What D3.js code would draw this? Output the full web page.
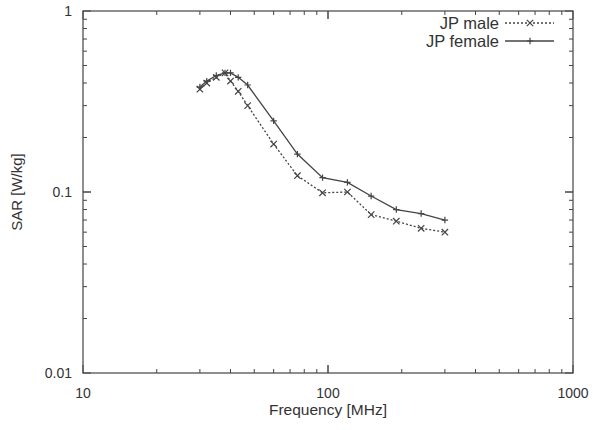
<!DOCTYPE html>
<html>
<head>
<meta charset="utf-8">
<script src="https://cdn.jsdelivr.net/npm/d3@7.9.0/dist/d3.min.js"></script>
<style>
  body { margin: 0; background: #fff; }
  svg { display: block; font-family: "Liberation Sans", Arial, sans-serif; }
  .tick-label { fill: #333; font-size: 14px; }
</style>
</head>
<body>
<div id="chart"></div>
<script>
// data
const freqs = [30, 32, 35, 38, 40, 43, 47, 60, 75, 95, 120, 150, 190, 240, 300];
const sarMale   = [0.37, 0.40, 0.43, 0.455, 0.41, 0.36, 0.30, 0.184, 0.123, 0.099, 0.10, 0.075, 0.069, 0.063, 0.060];
const sarFemale = [0.38, 0.41, 0.44, 0.455, 0.455, 0.43, 0.39, 0.247, 0.162, 0.12, 0.113, 0.095, 0.080, 0.076, 0.070];
const xTicks = [10, 100, 1000];
const yTicks = [0.01, 0.1, 1];
const seriesNames = ['JP male', 'JP female'];

const width = 593, height = 430;
const margin = { top: 11, right: 20, bottom: 57, left: 83 };
const ink = '#444';

const svg = d3.select('#chart').append('svg')
  .attr('width', width)
  .attr('height', height);

const x = d3.scaleLog().domain([10, 1000]).range([margin.left, width - margin.right]);
const y = d3.scaleLog().domain([0.01, 1]).range([height - margin.bottom, margin.top]);

const [x0, x1] = x.range();
const [y0, y1] = y.range();

// frame
svg.append('rect')
  .attr('x', x0).attr('y', y1)
  .attr('width', x1 - x0).attr('height', y0 - y1)
  .attr('fill', 'none').attr('stroke', ink).attr('stroke-width', 1.2);

// minor + major ticks on all four sides (pointing inward)
const minorX = [];
for (let d = 10; d < 1000; d *= 10) for (let k = 1; k <= 10; k++) minorX.push(d * k);
const minorY = [];
for (let d = 0.01; d < 1; d *= 10) for (let k = 1; k <= 10; k++) minorY.push(+(d * k).toPrecision(3));

const ticks = svg.append('g').attr('stroke', ink).attr('stroke-width', 1);
minorX.forEach(v => {
  const len = xTicks.includes(v) ? 8 : 4;
  ticks.append('line').attr('x1', x(v)).attr('x2', x(v)).attr('y1', y0).attr('y2', y0 - len);
  ticks.append('line').attr('x1', x(v)).attr('x2', x(v)).attr('y1', y1).attr('y2', y1 + len);
});
minorY.forEach(v => {
  const major = yTicks.some(t => Math.abs(t - v) < 1e-9);
  const len = major ? 8 : 4;
  ticks.append('line').attr('y1', y(v)).attr('y2', y(v)).attr('x1', x0).attr('x2', x0 + len);
  ticks.append('line').attr('y1', y(v)).attr('y2', y(v)).attr('x1', x1).attr('x2', x1 - len);
});

// tick labels
svg.append('g').selectAll('text')
  .data(xTicks)
  .join('text')
    .attr('class', 'tick-label')
    .attr('x', d => x(d))
    .attr('y', y0 + 25)
    .attr('text-anchor', 'middle')
    .text(d => d);

svg.append('g').selectAll('text')
  .data(yTicks)
  .join('text')
    .attr('class', 'tick-label')
    .attr('x', x0 - 11)
    .attr('y', d => y(d) + 5)
    .attr('text-anchor', 'end')
    .text(d => d);

// axis titles
svg.append('text')
  .attr('x', (x0 + x1) / 2)
  .attr('y', height - 15)
  .attr('text-anchor', 'middle')
  .attr('fill', '#333').attr('font-size', 15.5)
  .text('Frequency [MHz]');

svg.append('text')
  .attr('transform', `translate(22,${(y0 + y1) / 2}) rotate(-90)`)
  .attr('text-anchor', 'middle')
  .attr('fill', '#333').attr('font-size', 15)
  .text('SAR [W/kg]');

// series
const series = [
  { name: seriesNames[0], values: sarMale, dash: '2,2', marker: 'x' },
  { name: seriesNames[1], values: sarFemale, dash: null, marker: '+' }
];

const line = d3.line().x(d => x(d[0])).y(d => y(d[1]));

function drawMarker(g, cx, cy, type) {
  const s = 3.2;
  if (type === 'x') {
    g.append('path').attr('d', `M${cx - s},${cy - s}L${cx + s},${cy + s}M${cx - s},${cy + s}L${cx + s},${cy - s}`);
  } else {
    g.append('path').attr('d', `M${cx - s},${cy}L${cx + s},${cy}M${cx},${cy - s}L${cx},${cy + s}`);
  }
}

series.forEach(s => {
  const pts = freqs.map((f, i) => [f, s.values[i]]);
  svg.append('path')
    .datum(pts)
    .attr('d', line)
    .attr('fill', 'none')
    .attr('stroke', ink)
    .attr('stroke-width', 1.3)
    .attr('stroke-dasharray', s.dash);
  const mg = svg.append('g').attr('stroke', ink).attr('stroke-width', 1.2).attr('fill', 'none');
  pts.forEach(p => drawMarker(mg, x(p[0]), y(p[1]), s.marker));
});

// legend
series.forEach((s, i) => {
  const ly = 23 + i * 18;
  svg.append('text')
    .attr('x', 499).attr('y', ly + 6)
    .attr('text-anchor', 'end')
    .attr('fill', '#333').attr('font-size', 16.5)
    .text(s.name);
  svg.append('line')
    .attr('x1', 505).attr('x2', 554).attr('y1', ly).attr('y2', ly)
    .attr('stroke', ink).attr('stroke-width', 1.3)
    .attr('stroke-dasharray', s.dash);
  const mg = svg.append('g').attr('stroke', ink).attr('stroke-width', 1.2);
  drawMarker(mg, 530, ly, s.marker);
});
</script>
</body>
</html>
